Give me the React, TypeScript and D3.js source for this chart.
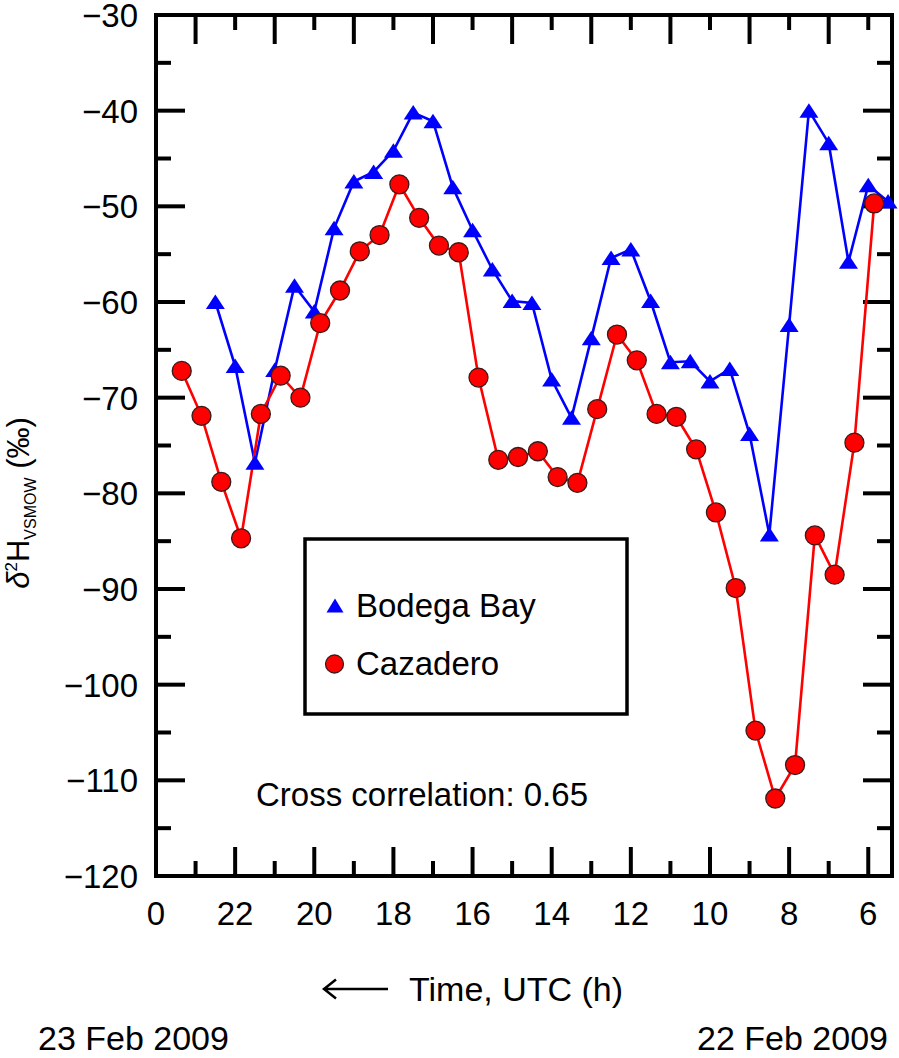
import { useEffect, useRef } from 'react';
import * as d3 from 'd3';

// Hours on the clock (24 = midnight 23 Feb), time runs right-to-left
const cazaderoTimes = [23.35, 22.85, 22.35, 21.85, 21.35, 20.85, 20.35, 19.85, 19.35, 18.85, 18.35, 17.85, 17.35, 16.85, 16.35, 15.85, 15.35, 14.85, 14.35, 13.85, 13.35, 12.85, 12.35, 11.85, 11.35, 10.85, 10.35, 9.85, 9.35, 8.85, 8.35, 7.85, 7.35, 6.85, 6.35, 5.85];
const cazaderoValues = [-67.2, -71.9, -78.8, -84.7, -71.7, -67.7, -70.0, -62.2, -58.8, -54.7, -53.0, -47.7, -51.2, -54.1, -54.8, -67.9, -76.5, -76.2, -75.6, -78.3, -78.9, -71.2, -63.4, -66.1, -71.7, -72.0, -75.4, -82.0, -89.9, -104.8, -111.9, -108.4, -84.4, -88.5, -74.7, -49.7];

const bodegaTimes = [22.5, 22.0, 21.5, 21.0, 20.5, 20.0, 19.5, 19.0, 18.5, 18.0, 17.5, 17.0, 16.5, 16.0, 15.5, 15.0, 14.5, 14.0, 13.5, 13.0, 12.5, 12.0, 11.5, 11.0, 10.5, 10.0, 9.5, 9.0, 8.5, 8.0, 7.5, 7.0, 6.5, 6.0, 5.5];
const bodegaValues = [-60.0, -66.7, -76.8, -67.1, -58.3, -61.0, -52.3, -47.4, -46.4, -44.2, -40.2, -41.1, -48.0, -52.5, -56.6, -59.9, -60.1, -68.1, -72.1, -63.8, -55.4, -54.5, -59.9, -66.3, -66.2, -68.3, -67.0, -73.8, -84.3, -62.4, -40.0, -43.4, -55.8, -47.8, -49.5];

const xLabelHours = [24, 22, 20, 18, 16, 14, 12, 10, 8, 6];
const xLabels = ['0', '22', '20', '18', '16', '14', '12', '10', '8', '6'];
const xMinorHours = [23, 21, 19, 17, 15, 13, 11, 9, 7];
const yMajor = [-30, -40, -50, -60, -70, -80, -90, -100, -110, -120];
const yMinor = [-35, -45, -55, -65, -75, -85, -95, -105, -115];

const FONT = "'Liberation Sans', Arial, Helvetica, sans-serif";
const BLUE = '#0000ff';
const RED = '#ff0000';

export default function App() {
  const svgRef = useRef<SVGSVGElement>(null);

  useEffect(() => {
    if (!svgRef.current) return;
    const svg = d3.select(svgRef.current);
    svg.selectAll('*').remove();

    const left = 156, right = 892, top = 15, bottom = 876;
    const x = d3.scaleLinear().domain([24, 5.4]).range([left, right]);
    const y = d3.scaleLinear().domain([-120, -30]).range([bottom, top]);

    const majorLen = 29, minorLen = 15;
    const axes = svg.append('g').attr('stroke', '#000').attr('stroke-width', 4).attr('stroke-linecap', 'butt');

    // bottom: long ticks at even hours, short at odd
    xLabelHours.forEach((h) => {
      axes.append('line').attr('x1', x(h)).attr('x2', x(h)).attr('y1', bottom).attr('y2', bottom - majorLen);
      axes.append('line').attr('x1', x(h)).attr('x2', x(h)).attr('y1', top).attr('y2', top + minorLen);
    });
    // top axis is the other way round
    xMinorHours.forEach((h) => {
      axes.append('line').attr('x1', x(h)).attr('x2', x(h)).attr('y1', bottom).attr('y2', bottom - minorLen);
      axes.append('line').attr('x1', x(h)).attr('x2', x(h)).attr('y1', top).attr('y2', top + majorLen);
    });
    yMajor.forEach((v) => {
      axes.append('line').attr('x1', left).attr('x2', left + majorLen).attr('y1', y(v)).attr('y2', y(v));
      axes.append('line').attr('x1', right).attr('x2', right - majorLen).attr('y1', y(v)).attr('y2', y(v));
    });
    yMinor.forEach((v) => {
      axes.append('line').attr('x1', left).attr('x2', left + minorLen).attr('y1', y(v)).attr('y2', y(v));
      axes.append('line').attr('x1', right).attr('x2', right - minorLen).attr('y1', y(v)).attr('y2', y(v));
    });
    axes.append('rect')
      .attr('x', left).attr('y', top)
      .attr('width', right - left).attr('height', bottom - top)
      .attr('fill', 'none');

    // tick labels
    const labels = svg.append('g').attr('font-family', FONT).attr('font-size', 33).attr('fill', '#000');
    yMajor.forEach((v) => {
      labels.append('text')
        .attr('x', 138).attr('y', y(v) + 12)
        .attr('text-anchor', 'end')
        .text(`\u2212${Math.abs(v)}`);
    });
    xLabelHours.forEach((h, i) => {
      labels.append('text')
        .attr('x', x(h)).attr('y', 925)
        .attr('text-anchor', 'middle')
        .text(xLabels[i]);
    });

    // series
    const line = d3.line<[number, number]>().x((d) => x(d[0])).y((d) => y(d[1]));
    const bodega = bodegaTimes.map((t, i) => [t, bodegaValues[i]] as [number, number]);
    const cazadero = cazaderoTimes.map((t, i) => [t, cazaderoValues[i]] as [number, number]);

    svg.append('path').datum(bodega).attr('d', line).attr('fill', 'none').attr('stroke', BLUE).attr('stroke-width', 2.6);
    svg.append('path').datum(cazadero).attr('d', line).attr('fill', 'none').attr('stroke', RED).attr('stroke-width', 2.6);

    const tri = 'M0,-7.5L9.5,7L-9.5,7Z';
    svg.append('g').selectAll('path').data(bodega).enter().append('path')
      .attr('d', tri)
      .attr('transform', (d) => `translate(${x(d[0])},${y(d[1])})`)
      .attr('fill', BLUE);
    svg.append('g').selectAll('circle').data(cazadero).enter().append('circle')
      .attr('cx', (d) => x(d[0])).attr('cy', (d) => y(d[1])).attr('r', 9.5)
      .attr('fill', RED).attr('stroke', '#3a1a1a').attr('stroke-width', 1.3);

    // legend
    const lg = svg.append('g');
    lg.append('rect').attr('x', 305).attr('y', 539).attr('width', 322).attr('height', 175)
      .attr('fill', '#fff').attr('stroke', '#000').attr('stroke-width', 3.5);
    lg.append('path').attr('d', 'M0,-7.5L8.5,6.5L-8.5,6.5Z').attr('transform', 'translate(335,606)').attr('fill', BLUE);
    lg.append('circle').attr('cx', 334.5).attr('cy', 664).attr('r', 9)
      .attr('fill', RED).attr('stroke', '#3a1a1a').attr('stroke-width', 1.3);
    lg.append('text').attr('x', 356).attr('y', 617).attr('font-family', FONT).attr('font-size', 33).text('Bodega Bay');
    lg.append('text').attr('x', 356).attr('y', 675).attr('font-family', FONT).attr('font-size', 33).text('Cazadero');

    svg.append('text').attr('x', 256).attr('y', 806).attr('font-family', FONT).attr('font-size', 33)
      .text('Cross correlation: 0.65');

    // y axis title
    const yt = svg.append('text')
      .attr('transform', 'translate(29,503) rotate(-90)')
      .attr('text-anchor', 'middle')
      .attr('font-family', FONT).attr('font-size', 31);
    yt.append('tspan').attr('font-style', 'italic').text('\u03b4');
    yt.append('tspan').attr('font-size', 17).attr('dy', -12).text('2');
    yt.append('tspan').attr('dy', 12).text('H');
    yt.append('tspan').attr('font-size', 16).attr('dy', 7).text('VSMOW');
    yt.append('tspan').attr('dy', -7).text(' (\u2030)');

    // x axis title with arrow
    svg.append('path').attr('d', 'M324,989H388M336,979.5L324,989L336,998.5')
      .attr('fill', 'none').attr('stroke', '#000').attr('stroke-width', 2.5);
    svg.append('text').attr('x', 409).attr('y', 1001).attr('font-family', FONT).attr('font-size', 34)
      .text('Time, UTC (h)');
    svg.append('text').attr('x', 38).attr('y', 1050).attr('font-family', FONT).attr('font-size', 34)
      .text('23 Feb 2009');
    svg.append('text').attr('x', 888).attr('y', 1050).attr('text-anchor', 'end').attr('font-family', FONT).attr('font-size', 34)
      .text('22 Feb 2009');
  }, []);

  return (
    <svg
      ref={svgRef}
      width={899}
      height={1058}
      style={{ position: 'absolute', left: 0, top: 0, background: '#fff' }}
    />
  );
}
